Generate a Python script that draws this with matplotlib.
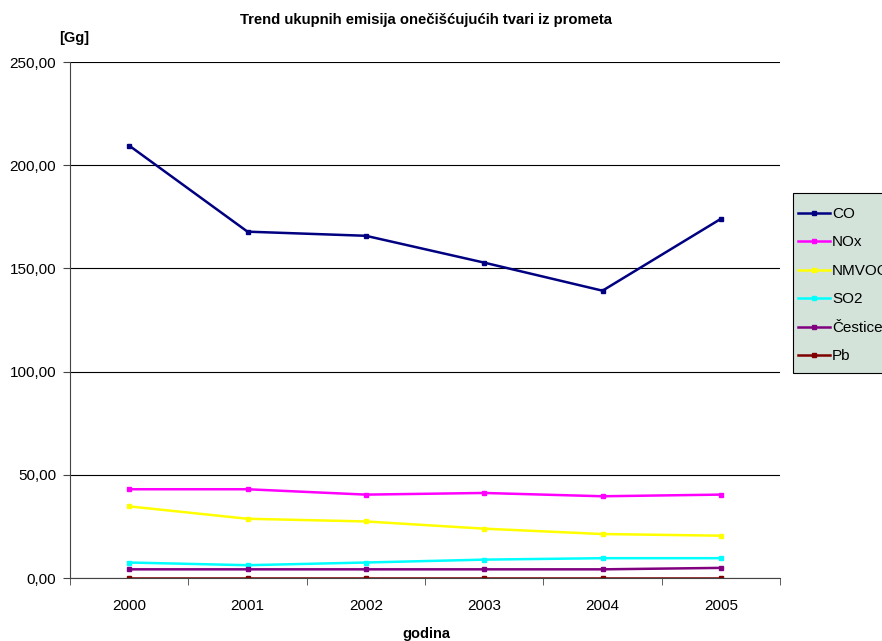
import matplotlib
matplotlib.use("Agg")
import matplotlib.pyplot as plt
from matplotlib.patches import Rectangle
import numpy as np

plt.rcParams['font.family'] = ['Liberation Sans', 'DejaVu Sans']

years = ['2000', '2001', '2002', '2003', '2004', '2005']
co = [209.5, 167.8, 165.8, 152.8, 139.2, 174.0]
nox = [43.0, 43.0, 40.4, 41.2, 39.6, 40.4]
nmvoc = [34.7, 28.7, 27.4, 23.9, 21.3, 20.5]
so2 = [7.5, 6.2, 7.5, 8.9, 9.6, 9.6]
cestice = [4.2, 4.2, 4.2, 4.2, 4.2, 4.9]
pb = [0.05, 0.05, 0.05, 0.05, 0.05, 0.05]

series = [
    ('CO', co, '#000080'),
    ('NOx', nox, '#FF00FF'),
    ('NMVOC', nmvoc, '#FFFF00'),
    ('SO2', so2, '#00FFFF'),
    ('Čestice', cestice, '#800080'),
    ('Pb', pb, '#800000'),
]

W, H = 882, 641
fig = plt.figure(figsize=(W / 100, H / 100), dpi=100)
ax = fig.add_axes([70/W, 1-578/H, 710/W, (578-62)/H])

x = np.arange(len(years))
for name, vals, col in series:
    ax.plot(x, vals, color=col, lw=1.8, marker='s', ms=2.2, label=name)

ax.set_xlim(-0.5, len(years) - 0.5)
ax.set_ylim(0, 250)
yt = np.arange(0, 251, 50)
ax.set_yticks(yt)
ax.set_yticklabels([f"{v:.2f}".replace('.', ',') for v in yt], fontsize=11)
ax.set_xticks(x)
ax.set_xticklabels(years, fontsize=11)
ax.set_xticks(np.arange(-0.5, len(years), 1), minor=True)
ax.tick_params(axis='x', which='major', length=0, pad=15)
ax.tick_params(axis='x', which='minor', length=5, direction='out', color='#444444')
ax.tick_params(axis='y', length=5, direction='out', color='#444444', pad=5)
ax.yaxis.grid(True, color='black', lw=0.8)
ax.set_axisbelow(True)
for s in ['top', 'right']:
    ax.spines[s].set_visible(False)
for s in ['left', 'bottom']:
    ax.spines[s].set_color('#444444')

fig.text(426/W, 1-20/H, 'Trend ukupnih emisija onečišćujućih tvari iz prometa',
         ha='center', va='center', fontsize=10.7, fontweight='bold')
fig.text(74/W, 1-38/H, '[Gg]', ha='center', va='center', fontsize=10.5, fontweight='bold')
fig.text(426/W, 1-634/H, 'godina', ha='center', va='center', fontsize=10.5, fontweight='bold')

# legend box drawn separately so the entries can sit with their own padding
fig.patches.append(Rectangle((793/W, 1-373/H), 100/W, 180/H, transform=fig.transFigure,
                             facecolor='#D3E3DA', edgecolor='black', lw=0.8, zorder=1))
leg = fig.legend(loc='upper left', bbox_to_anchor=(793/W, 1-201.5/H), fontsize=11,
                 frameon=False, handlelength=2.1, handletextpad=0.1,
                 labelspacing=0.95, borderpad=0.35, borderaxespad=0)

fig.savefig('out.png', dpi=100)
